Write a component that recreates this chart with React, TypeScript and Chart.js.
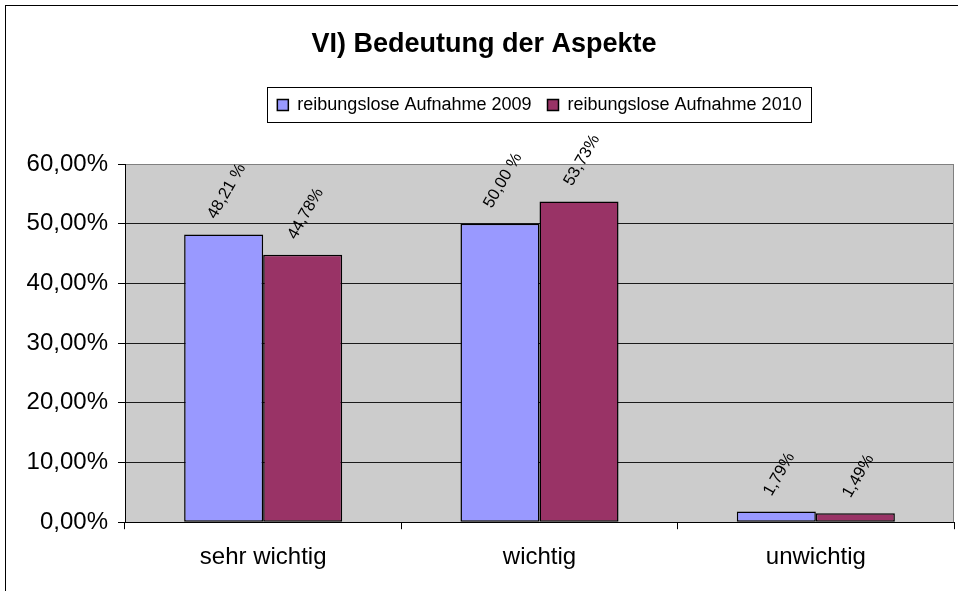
import { useEffect, useRef } from 'react';
import { Chart, registerables } from 'chart.js';

Chart.register(...registerables);

const titleText = 'VI) Bedeutung der Aspekte';
const categories = ['sehr wichtig', 'wichtig', 'unwichtig'];
const seriesLabels = ['reibungslose Aufnahme 2009', 'reibungslose Aufnahme 2010'];
const series2009 = [48.21, 50.0, 1.79];
const series2010 = [44.78, 53.73, 1.49];
const valueLabels2009 = ['48,21 %', '50,00 %', '1,79%'];
const valueLabels2010 = ['44,78%', '53,73%', '1,49%'];
const yTicks = [0, 10, 20, 30, 40, 50, 60];

const FONT = "'Liberation Sans', Arial, sans-serif";
const fmt = (v: number) => v.toFixed(2).replace('.', ',') + '%';
const valueLabels = [valueLabels2009, valueLabels2010];

const framePlugin = {
  id: 'frame',
  beforeDraw(chart: any) {
    const { ctx, chartArea: a } = chart;
    ctx.save();
    ctx.fillStyle = '#ffffff';
    ctx.fillRect(0, 0, chart.width, chart.height);
    ctx.fillStyle = '#cccccc';
    ctx.fillRect(a.left, a.top, a.right - a.left, a.bottom - a.top);
    ctx.restore();
  },
  afterDraw(chart: any) {
    const { ctx, chartArea: a } = chart;
    ctx.save();
    ctx.lineWidth = 1;
    ctx.strokeStyle = '#000';
    ctx.strokeRect(5.5, 5.5, chart.width + 20, chart.height + 20);
    ctx.strokeStyle = '#808080';
    const rx = Math.round(a.right) - 0.5;
    ctx.beginPath();
    ctx.moveTo(rx, a.top);
    ctx.lineTo(rx, a.bottom);
    ctx.stroke();
    const lg = chart.legend;
    if (lg && lg.legendHitBoxes && lg.legendHitBoxes.length) {
      const hb = lg.legendHitBoxes;
      const l = hb[0].left;
      const r = hb[hb.length - 1].left + hb[hb.length - 1].width;
      const cx = (a.left + a.right) / 2;
      const half = (r - l) / 2 + 10;
      const top = hb[0].top - 9;
      const bottom = hb[0].top + hb[0].height + 8;
      ctx.strokeStyle = '#000';
      ctx.strokeRect(Math.round(cx - half) + 0.5, Math.round(top) + 0.5, Math.round(2 * half), Math.round(bottom - top));
    }
    ctx.restore();
  },
};

const LABEL_SIZE = 16.5;
const LABEL_ANGLE = (60 * Math.PI) / 180;

const dataLabelPlugin = {
  id: 'dataLabels',
  afterDatasetsDraw(chart: any) {
    const { ctx } = chart;
    ctx.save();
    ctx.font = `${LABEL_SIZE}px ${FONT}`;
    ctx.fillStyle = '#000';
    ctx.textAlign = 'center';
    ctx.textBaseline = 'middle';
    chart.data.datasets.forEach((ds: any, di: number) => {
      const meta = chart.getDatasetMeta(di);
      meta.data.forEach((el: any, i: number) => {
        const txt = valueLabels[di][i];
        const L = ctx.measureText(txt).width;
        const h = LABEL_SIZE * 0.72;
        const half = (L * Math.sin(LABEL_ANGLE) + h * Math.cos(LABEL_ANGLE)) / 2;
        const cx = el.x + 3;
        const cy = el.y - 14 - half;
        ctx.save();
        ctx.translate(cx, cy);
        ctx.rotate(-LABEL_ANGLE);
        ctx.fillText(txt, 0, 0);
        ctx.restore();
      });
    });
    ctx.restore();
  },
};

export default function App() {
  const ref = useRef<HTMLCanvasElement>(null);
  useEffect(() => {
    document.body.style.margin = '0';
    const chart = new Chart(ref.current as HTMLCanvasElement, {
      type: 'bar',
      data: {
        labels: categories,
        datasets: [
          {
            label: seriesLabels[0],
            data: series2009,
            backgroundColor: '#9999ff',
            borderColor: '#000',
            borderWidth: 1.5,
            borderSkipped: false,
            categoryPercentage: 0.572,
            barPercentage: 1,
          },
          {
            label: seriesLabels[1],
            data: series2010,
            backgroundColor: '#993366',
            borderColor: '#000',
            borderWidth: 1.5,
            borderSkipped: false,
            categoryPercentage: 0.572,
            barPercentage: 1,
          },
        ],
      },
      options: {
        responsive: true,
        maintainAspectRatio: false,
        animation: false,
        layout: { padding: { left: 14, right: 4, top: 0, bottom: 5 } },
        plugins: {
          title: {
            display: true,
            text: titleText,
            color: '#000',
            font: { family: FONT, size: 27, weight: 'bold', lineHeight: 1.2 },
            padding: { top: 28, bottom: 19.6 },
          },
          subtitle: {
            display: true,
            text: '',
            weight: 500,
            font: { family: FONT, size: 10, lineHeight: 1 },
            padding: { top: 30, bottom: 0 },
          },
          legend: {
            display: true,
            position: 'top',
            fullSize: false,
            labels: {
              color: '#000',
              font: { family: FONT, size: 18 },
              boxWidth: 11,
              boxHeight: 11,
              padding: 16,
            },
          },
          tooltip: { enabled: false },
        },
        scales: {
          x: {
            grid: {
              display: true,
              drawOnChartArea: false,
              drawTicks: true,
              tickLength: 7,
              tickColor: '#000',
              offset: true,
            },
            border: { display: true, color: '#000', width: 1 },
            ticks: { color: '#000', font: { family: FONT, size: 24 }, padding: 14 },
          },
          y: {
            min: 0,
            max: 60,
            afterBuildTicks: (s: any) => {
              s.ticks = yTicks.map((v) => ({ value: v }));
            },
            afterFit: (s: any) => {
              s.width = 111;
            },
            ticks: {
              color: '#000',
              font: { family: FONT, size: 24 },
              padding: 10,
              callback: (v: any) => fmt(Number(v)),
            },
            grid: {
              color: (c: any) => (c.tick && c.tick.value === 60 ? '#808080' : '#1a1a1a'),
              tickColor: '#000',
              tickLength: 7,
            },
            border: { display: true, color: '#000', width: 1 },
          },
        },
      },
      plugins: [framePlugin, dataLabelPlugin],
    } as any);
    return () => chart.destroy();
  }, []);
  return (
    <div style={{ position: 'fixed', left: 0, top: 0, width: 958, height: 591, background: '#fff' }}>
      <canvas ref={ref} />
    </div>
  );
}
